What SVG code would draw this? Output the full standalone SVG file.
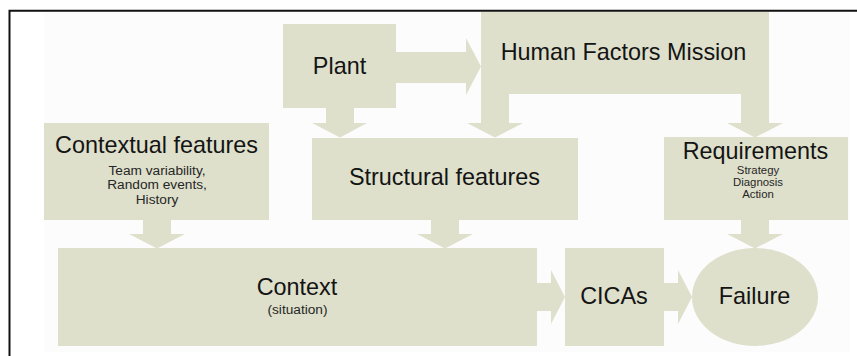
<svg xmlns="http://www.w3.org/2000/svg" width="857" height="356" viewBox="0 0 857 356">
  <style>
    .box { fill: #dee0cb; }
    .arrow { fill: #dee0cb; }
    .title { font-family: "Liberation Sans", Arial, sans-serif; font-size: 23.4px; fill: #141414; text-anchor: middle; }
    .sub { font-family: "Liberation Sans", Arial, sans-serif; font-size: 13.7px; fill: #262626; text-anchor: middle; }
    .sub-sm { font-family: "Liberation Sans", Arial, sans-serif; font-size: 11.4px; fill: #262626; text-anchor: middle; }
  </style>

  <!-- page background and frame -->
  <rect x="0" y="0" width="857" height="356" fill="#ffffff"/>
  <rect x="44" y="12" width="806" height="340" fill="#fcfcfc"/>
  <path d="M9.5 356 V10.8 H857" fill="none" stroke="#111111" stroke-width="2"/>

  <!-- block arrows -->
  <g id="connectors">
    <!-- Plant -> Human Factors Mission -->
    <polygon class="arrow" points="396,52 466,52 466,38 481,66.5 466,95 466,83 396,83"/>
    <!-- Plant -> Structural features -->
    <polygon class="arrow" points="326,108 354,108 354,123 367,123 340,137.5 312,123 326,123"/>
    <!-- Human Factors Mission -> Structural features -->
    <polygon class="arrow" points="481,94 509,94 509,123 523,123 495,137.5 467,123 481,123"/>
    <!-- Human Factors Mission -> Requirements -->
    <polygon class="arrow" points="741,94 769,94 769,123 783,123 755,137.5 727,123 741,123"/>
    <!-- Contextual features -> Context -->
    <polygon class="arrow" points="143,220 171,220 171,234 185,234 157,248.5 129,234 143,234"/>
    <!-- Structural features -> Context -->
    <polygon class="arrow" points="431,220 459,220 459,234 473,234 445,248.5 417,234 431,234"/>
    <!-- Requirements -> Failure -->
    <polygon class="arrow" points="741,220 769,220 769,234 783,234 755,248.5 727,234 741,234"/>
    <!-- Context -> CICAs -->
    <polygon class="arrow" points="537,283 551,283 551,270 565,297 551,324 551,311 537,311"/>
    <!-- CICAs -> Failure -->
    <polygon class="arrow" points="664,283 678,283 678,270 692,297 678,324 678,311 664,311"/>
  </g>

  <g id="plant">
    <rect class="box" x="283" y="24" width="113" height="84"/>
    <text class="title" x="339.5" y="74">Plant</text>
  </g>

  <g id="human-factors-mission">
    <rect class="box" x="481" y="12" width="288" height="82"/>
    <text class="title" x="623.5" y="60">Human Factors Mission</text>
  </g>

  <g id="contextual-features">
    <rect class="box" x="44" y="123" width="225" height="97"/>
    <text class="title" x="156.5" y="153">Contextual features</text>
    <text class="sub" x="157" y="174.5">Team variability,</text>
    <text class="sub" x="157" y="189">Random events,</text>
    <text class="sub" x="157" y="203.5">History</text>
  </g>

  <g id="structural-features">
    <rect class="box" x="312" y="138" width="266" height="82"/>
    <text class="title" x="444.5" y="185">Structural features</text>
  </g>

  <g id="requirements">
    <rect class="box" x="664" y="137" width="184" height="83"/>
    <text class="title" x="755.5" y="158.5">Requirements</text>
    <text class="sub-sm" x="758" y="173.5">Strategy</text>
    <text class="sub-sm" x="758" y="185.5">Diagnosis</text>
    <text class="sub-sm" x="758" y="197.5">Action</text>
  </g>

  <g id="context">
    <rect class="box" x="58" y="248" width="479" height="98"/>
    <text class="title" x="297" y="295">Context</text>
    <text class="sub" x="297.5" y="313.5">(situation)</text>
  </g>

  <g id="cicas">
    <rect class="box" x="565" y="248" width="99" height="98"/>
    <text class="title" x="614" y="304">CICAs</text>
  </g>

  <g id="failure">
    <ellipse class="box" cx="755" cy="297" rx="63" ry="49"/>
    <text class="title" x="754.5" y="304">Failure</text>
  </g>
</svg>
